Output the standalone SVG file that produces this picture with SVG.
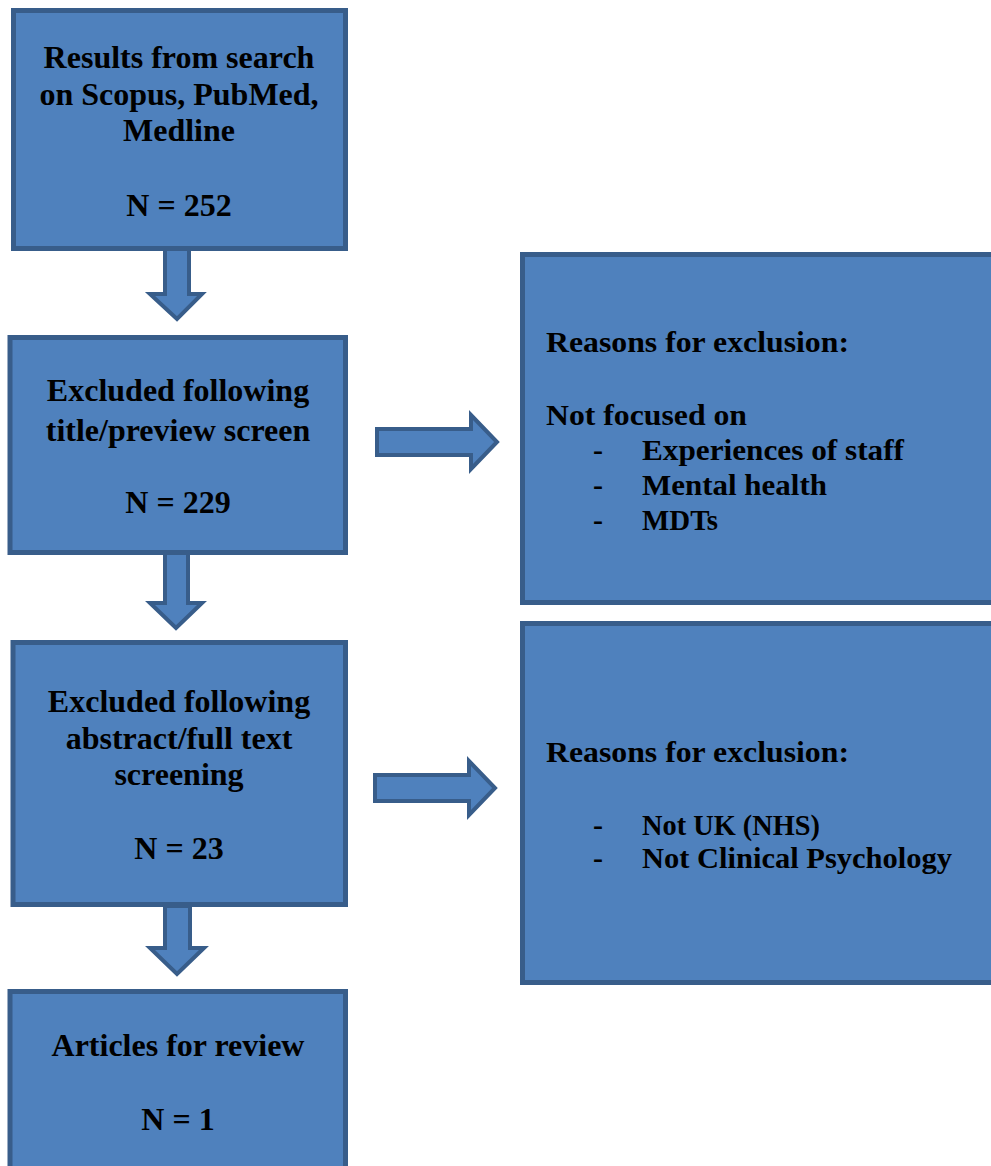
<svg xmlns="http://www.w3.org/2000/svg" width="991" height="1166" viewBox="0 0 991 1166">
<style>
.box{fill:#4F81BD;stroke:#385D8A;stroke-width:5}
.arr{fill:#4F81BD;stroke:#385D8A;stroke-width:4;stroke-linejoin:miter}
.t{font-family:"Liberation Serif","Times New Roman",serif;font-weight:bold;font-size:32px;fill:#000;text-anchor:middle}
.r{font-family:"Liberation Serif","Times New Roman",serif;font-weight:bold;font-size:30px;fill:#000}
</style>
<rect width="991" height="1166" fill="#fff"/>
<g id="connectors">
<polygon class="arr" points="165,249 189,249 189,294 202,294 177,319 150,294 165,294"/>
<polygon class="arr" points="165,552 188,552 188,603 202,603 176,628 150,603 165,603"/>
<polygon class="arr" points="165,906 190,906 190,948 204,948 177,974 150,948 165,948"/>
<polygon class="arr" points="377,429 471,429 471,415 497,442 471,469 471,455 377,455"/>
<polygon class="arr" points="375,775 469,775 469,761 495,788 469,815 469,801 375,801"/>
</g>
<g id="n1">
<rect class="box" x="13.5" y="10.5" width="332" height="238"/>
<text class="t" x="179" y="68">Results from search</text>
<text class="t" x="179" y="105">on Scopus, PubMed,</text>
<text class="t" x="179" y="141">Medline</text>
<text class="t" x="179" y="216">N = 252</text>
</g>
<g id="n2">
<rect class="box" x="10" y="337.5" width="335.5" height="215"/>
<text class="t" x="178" y="401">Excluded following</text>
<text class="t" x="178" y="441">title/preview screen</text>
<text class="t" x="178" y="513">N = 229</text>
</g>
<g id="n3">
<rect class="box" x="13" y="642.5" width="332.5" height="262"/>
<text class="t" x="179" y="712">Excluded following</text>
<text class="t" x="179" y="749">abstract/full text</text>
<text class="t" x="179" y="785">screening</text>
<text class="t" x="179" y="859">N = 23</text>
</g>
<g id="n4">
<rect class="box" x="10" y="991.5" width="335.5" height="200"/>
<text class="t" x="178" y="1056">Articles for review</text>
<text class="t" x="178" y="1130">N = 1</text>
</g>
<g id="r1">
<rect class="box" x="522.5" y="254.5" width="480" height="348"/>
<text class="r" x="546" y="352" textLength="303" lengthAdjust="spacingAndGlyphs">Reasons for exclusion:</text>
<text class="r" x="546" y="425" textLength="201" lengthAdjust="spacingAndGlyphs">Not focused on</text>
<text class="r" x="593" y="460">-</text>
<text class="r" x="642" y="460" textLength="262" lengthAdjust="spacingAndGlyphs">Experiences of staff</text>
<text class="r" x="593" y="495">-</text>
<text class="r" x="642" y="495" textLength="185" lengthAdjust="spacingAndGlyphs">Mental health</text>
<text class="r" x="593" y="530">-</text>
<text class="r" x="642" y="530" textLength="76" lengthAdjust="spacingAndGlyphs">MDTs</text>
</g>
<g id="r2">
<rect class="box" x="522.5" y="623.5" width="480" height="359"/>
<text class="r" x="546" y="762" textLength="303" lengthAdjust="spacingAndGlyphs">Reasons for exclusion:</text>
<text class="r" x="593" y="835">-</text>
<text class="r" x="642" y="835" textLength="178" lengthAdjust="spacingAndGlyphs">Not UK (NHS)</text>
<text class="r" x="593" y="868">-</text>
<text class="r" x="642" y="868" textLength="310" lengthAdjust="spacingAndGlyphs">Not Clinical Psychology</text>
</g>
</svg>
